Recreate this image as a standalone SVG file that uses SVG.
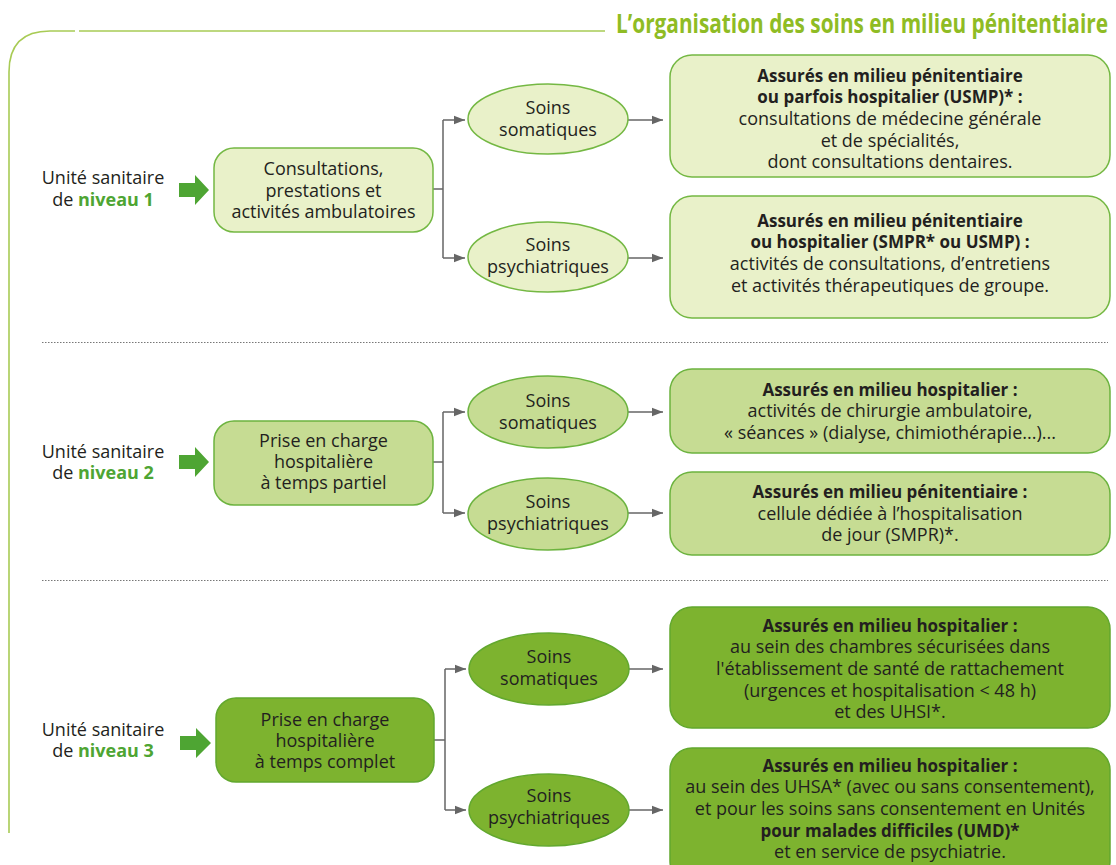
<svg xmlns="http://www.w3.org/2000/svg" width="1116" height="865" viewBox="0 0 1116 865">
<defs>
<style>
text{font-family:"Open Sans","Noto Sans","Liberation Sans",sans-serif;font-size:18px;fill:#231f20;text-anchor:middle}
.b{font-weight:700;font-size:17px}
.g{fill:#4ea533;font-weight:700}
.title{font-size:27px;font-weight:700;fill:#8fbc24;text-anchor:start}
.l1{fill:#e9f1c9;stroke:#74b843;stroke-width:1.5}
.l2{fill:#c6dc93;stroke:#6cb33f;stroke-width:1.5}
.l3{fill:#7db32f;stroke:#62a82e;stroke-width:1.5}
.conn{fill:none;stroke:#666;stroke-width:1.5}
.frame{fill:none;stroke:#a8cb55;stroke-width:1.6}
.div{stroke:#777;stroke-width:1;stroke-dasharray:1.5 1.5}
.blk{fill:#4ea533}
</style>
<marker id="ah" markerUnits="userSpaceOnUse" markerWidth="12" markerHeight="10" refX="11" refY="5" orient="auto">
<path d="M0,0.8 L11,5 L0,9.2 Z" fill="#666"/>
</marker>
</defs>

<g id="frame">
<path class="frame" d="M9,833 V72 Q9,31 50,31 H75 M79,31 H605"/>
<text class="title" x="616" y="33" textLength="492" lengthAdjust="spacingAndGlyphs">L’organisation des soins en milieu pénitentiaire</text>
<line class="div" x1="42" y1="342.5" x2="1108" y2="342.5"/>
<line class="div" x1="42" y1="580.5" x2="1108" y2="580.5"/>
</g>

<g id="connectors">
<path class="conn" d="M433,189 H443 M443,120 V258"/>
<path class="conn" d="M443,120 H465" marker-end="url(#ah)"/>
<path class="conn" d="M443,258 H465" marker-end="url(#ah)"/>
<path class="conn" d="M628,120 H663" marker-end="url(#ah)"/>
<path class="conn" d="M628,258 H663" marker-end="url(#ah)"/>

<path class="conn" d="M433,462 H443 M443,412 V513"/>
<path class="conn" d="M443,412 H465" marker-end="url(#ah)"/>
<path class="conn" d="M443,513 H465" marker-end="url(#ah)"/>
<path class="conn" d="M628,412 H663" marker-end="url(#ah)"/>
<path class="conn" d="M628,513 H663" marker-end="url(#ah)"/>

<path class="conn" d="M434,740 H445 M445,669 V810"/>
<path class="conn" d="M445,669 H466" marker-end="url(#ah)"/>
<path class="conn" d="M445,810 H466" marker-end="url(#ah)"/>
<path class="conn" d="M629,669 H663" marker-end="url(#ah)"/>
<path class="conn" d="M629,810 H663" marker-end="url(#ah)"/>
</g>

<!-- Level 1 -->
<g id="label1">
<text x="103" y="184">Unité sanitaire</text>
<text x="103" y="206">de <tspan class="g">niveau 1</tspan></text>
<path class="blk" d="M179,183 H195 V175 L209,190 L195,205 V197 H179 Z"/>
</g>
<g id="box1">
<rect class="l1" x="214" y="148" width="219" height="84" rx="20"/>
<text x="323.5" y="175">Consultations,</text>
<text x="323.5" y="197">prestations et</text>
<text x="323.5" y="218">activités ambulatoires</text>
</g>
<g id="som1">
<ellipse class="l1" cx="548" cy="119" rx="80" ry="35"/>
<text x="548" y="114">Soins</text>
<text x="548" y="136">somatiques</text>
</g>
<g id="psy1">
<ellipse class="l1" cx="548" cy="257" rx="80" ry="35"/>
<text x="548" y="251">Soins</text>
<text x="548" y="273">psychiatriques</text>
</g>
<g id="res1a">
<rect class="l1" x="670" y="55" width="440" height="122" rx="22"/>
<text class="b" x="890" y="82">Assurés en milieu pénitentiaire</text>
<text class="b" x="890" y="103">ou parfois hospitalier (USMP)* :</text>
<text x="890" y="125">consultations de médecine générale</text>
<text x="890" y="147">et de spécialités,</text>
<text x="890" y="168">dont consultations dentaires.</text>
</g>
<g id="res1b">
<rect class="l1" x="670" y="196" width="440" height="122" rx="22"/>
<text class="b" x="890" y="227">Assurés en milieu pénitentiaire</text>
<text class="b" x="890" y="248">ou hospitalier (SMPR* ou USMP) :</text>
<text x="890" y="270">activités de consultations, d’entretiens</text>
<text x="890" y="292">et activités thérapeutiques de groupe.</text>
</g>

<!-- Level 2 -->
<g id="label2">
<text x="103" y="458">Unité sanitaire</text>
<text x="103" y="479">de <tspan class="g">niveau 2</tspan></text>
<path class="blk" d="M179,455 H195 V447 L209,462 L195,477 V469 H179 Z"/>
</g>
<g id="box2">
<rect class="l2" x="214" y="421" width="219" height="84" rx="20"/>
<text x="323.5" y="447">Prise en charge</text>
<text x="323.5" y="468">hospitalière</text>
<text x="323.5" y="489">à temps partiel</text>
</g>
<g id="som2">
<ellipse class="l2" cx="548" cy="412" rx="80" ry="36"/>
<text x="548" y="407">Soins</text>
<text x="548" y="429">somatiques</text>
</g>
<g id="psy2">
<ellipse class="l2" cx="548" cy="514" rx="80" ry="36"/>
<text x="548" y="508">Soins</text>
<text x="548" y="530">psychiatriques</text>
</g>
<g id="res2a">
<rect class="l2" x="670" y="369" width="440" height="84" rx="22"/>
<text class="b" x="890" y="396">Assurés en milieu hospitalier :</text>
<text x="890" y="417">activités de chirurgie ambulatoire,</text>
<text x="890" y="439">« séances » (dialyse, chimiothérapie...)...</text>
</g>
<g id="res2b">
<rect class="l2" x="670" y="472" width="440" height="83" rx="22"/>
<text class="b" x="890" y="498">Assurés en milieu pénitentiaire :</text>
<text x="890" y="520">cellule dédiée à l’hospitalisation</text>
<text x="890" y="541">de jour (SMPR)*.</text>
</g>

<!-- Level 3 -->
<g id="label3">
<text x="103" y="736">Unité sanitaire</text>
<text x="103" y="757">de <tspan class="g">niveau 3</tspan></text>
<path class="blk" d="M180,736 H196 V728 L211,743 L196,758 V750 H180 Z"/>
</g>
<g id="box3">
<rect class="l3" x="216" y="698" width="218" height="84" rx="20"/>
<text x="325" y="726">Prise en charge</text>
<text x="325" y="747">hospitalière</text>
<text x="325" y="768">à temps complet</text>
</g>
<g id="som3">
<ellipse class="l3" cx="549" cy="669" rx="80" ry="36"/>
<text x="549" y="663">Soins</text>
<text x="549" y="685">somatiques</text>
</g>
<g id="psy3">
<ellipse class="l3" cx="549" cy="810" rx="80" ry="36"/>
<text x="549" y="802">Soins</text>
<text x="549" y="824">psychiatriques</text>
</g>
<g id="res3a">
<rect class="l3" x="670" y="607" width="440" height="121" rx="22"/>
<text class="b" x="890" y="632">Assurés en milieu hospitalier :</text>
<text x="890" y="653">au sein des chambres sécurisées dans</text>
<text x="890" y="675">l'établissement de santé de rattachement</text>
<text x="890" y="697">(urgences et hospitalisation &lt; 48 h)</text>
<text x="890" y="718">et des UHSI*.</text>
</g>
<g id="res3b">
<rect class="l3" x="670" y="748" width="440" height="135" rx="22"/>
<text class="b" x="890" y="772">Assurés en milieu hospitalier :</text>
<text x="890" y="793">au sein des UHSA* (avec ou sans consentement),</text>
<text x="890" y="815">et pour les soins sans consentement en Unités</text>
<text class="b" x="890" y="837">pour malades difficiles (UMD)*</text>
<text x="890" y="858">et en service de psychiatrie.</text>
</g>
</svg>
